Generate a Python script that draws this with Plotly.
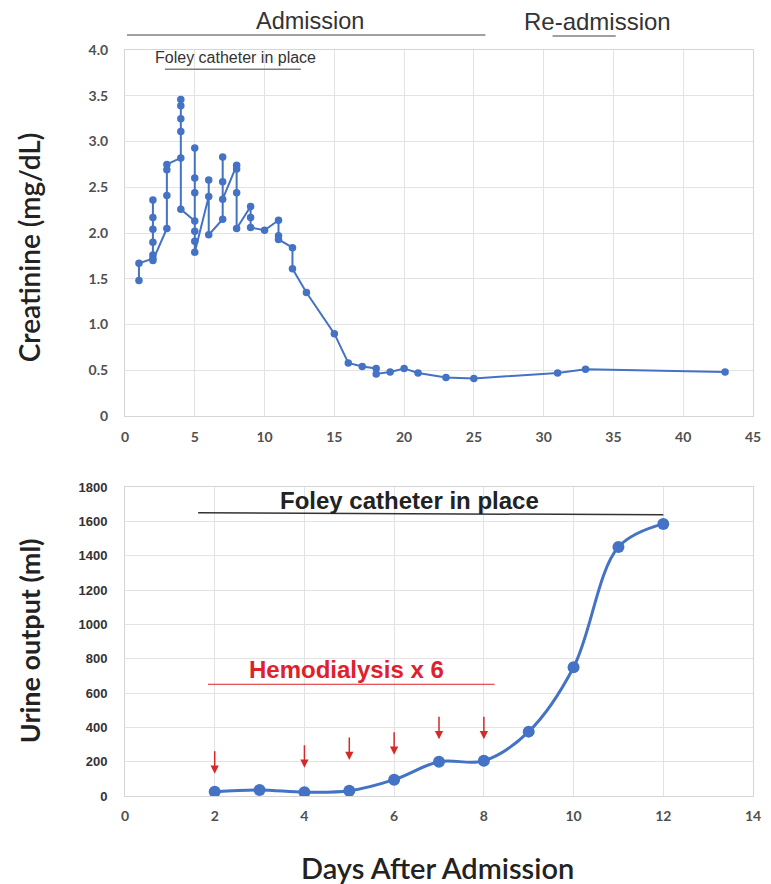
import plotly.graph_objects as go

# ---------------- data ----------------
cr_days = [1, 1, 2, 2, 2, 2, 2, 2, 2, 3, 3, 3, 3, 4, 4, 4, 4, 4, 4,
           5, 5, 5, 5, 5, 5, 5, 6, 6, 6, 7, 7, 7, 7, 8, 8, 8, 8, 9, 9, 9,
           10, 11, 11, 11, 12, 12, 13, 15, 16, 17, 18, 18, 19, 20, 21, 23, 25, 31, 33, 43]
creatinine = [1.48, 1.67, 1.72, 2.36, 2.17, 2.04, 1.90, 1.76, 1.70, 2.05, 2.41, 2.69, 2.75,
              2.82, 3.11, 3.25, 3.39, 3.46, 2.26,
              2.13, 2.93, 2.60, 2.44, 2.02, 1.91, 1.79, 2.40, 2.58, 1.98, 2.15, 2.83, 2.56, 2.37,
              2.74, 2.70, 2.44, 2.05, 2.29, 2.17, 2.06,
              2.03, 2.14, 1.97, 1.93, 1.84, 1.61, 1.35, 0.90, 0.58, 0.54, 0.52, 0.46, 0.48, 0.52,
              0.47, 0.42, 0.41, 0.47, 0.51, 0.48]

urine_days = [2, 3, 4, 5, 6, 7, 8, 9, 10, 11, 12]
urine_ml = [25, 35, 22, 30, 95, 200, 205, 375, 750, 1450, 1585]

hd_days = [2, 4, 5, 6, 7, 8]
hd_arrow_tip = [130, 165, 210, 240, 330, 330]   # annotation positions (arrow tips)
hd_arrow_len = 140

cr_xticks = [0, 5, 10, 15, 20, 25, 30, 35, 40, 45]
cr_yticks = [0, 0.5, 1.0, 1.5, 2.0, 2.5, 3.0, 3.5, 4.0]
cr_yticklabels = ["0", "0.5", "1.0", "1.5", "2.0", "2.5", "3.0", "3.5", "4.0"]
ur_xticks = [0, 2, 4, 6, 8, 10, 12, 14]
ur_yticks = [0, 200, 400, 600, 800, 1000, 1200, 1400, 1600, 1800]

BLUE = "#4472C4"
RED = "#E0202A"
GRID = "#E3E3E3"

W, H = 771, 884
ML, MR, MT, MB = 125, 10, 50, 88
PH = H - MT - MB


def py(pix):
    return (H - MB - pix) / PH


def px(pix):
    return (pix - ML) / (W - ML - MR)


fig = go.Figure()

fig.add_trace(go.Scatter(
    x=cr_days, y=creatinine, mode="lines+markers",
    line=dict(color=BLUE, width=2),
    marker=dict(color=BLUE, size=7.5),
    xaxis="x", yaxis="y", showlegend=False))

fig.add_trace(go.Scatter(
    x=urine_days, y=urine_ml, mode="lines+markers",
    line=dict(color=BLUE, width=3, shape="spline", smoothing=1.0),
    marker=dict(color=BLUE, size=12),
    xaxis="x2", yaxis="y2", showlegend=False))

tickfont_cal = dict(family="Lato", size=14, color="#505050", weight="bold")
tickfont_ar = dict(family="Liberation Sans", size=13, color="#333333", weight="bold")

axis_common = dict(showgrid=True, gridcolor=GRID, gridwidth=1, zeroline=False,
                   showline=True, linecolor="#D6D6D6", linewidth=1, mirror=True,
                   ticks="")

fig.update_layout(
    width=W, height=H,
    margin=dict(l=ML, r=MR, t=MT, b=MB),
    paper_bgcolor="white", plot_bgcolor="white",
    xaxis=dict(domain=[0, 1], range=[0, 45], tickvals=cr_xticks, anchor="y",
               tickfont=tickfont_cal, ticklabelstandoff=8, **axis_common),
    yaxis=dict(domain=[py(416), 1], range=[0, 4], tickvals=cr_yticks,
               ticktext=cr_yticklabels, anchor="x", tickfont=tickfont_cal,
               ticklabelstandoff=13, **axis_common),
    xaxis2=dict(domain=[0, 1], range=[0, 14], tickvals=ur_xticks, anchor="y2",
                tickfont=tickfont_cal, ticklabelstandoff=7, **axis_common),
    yaxis2=dict(domain=[0, py(487)], range=[0, 1800], tickvals=ur_yticks,
                anchor="x2", tickfont=tickfont_ar, ticklabelstandoff=14, **axis_common),
)

annotations = []
shapes = []


def ann(**kw):
    kw.setdefault("xanchor", "center")
    kw.setdefault("yanchor", "middle")
    kw.setdefault("showarrow", False)
    annotations.append(kw)


# --- top chart headers ---
ann(text="Admission", xref="paper", yref="paper", x=px(312), y=py(21),
    font=dict(family="Liberation Sans", size=23.5, color="#333333"))
shapes.append(dict(type="line", xref="paper", yref="paper",
                   x0=px(127), x1=px(490), y0=py(35), y1=py(35),
                   line=dict(color="#A0A0A0", width=2)))
ann(text="Re-admission", xref="paper", yref="paper", x=px(604), y=py(21),
    font=dict(family="Liberation Sans", size=24, color="#333333"))
shapes.append(dict(type="line", xref="paper", yref="paper",
                   x0=px(558), x1=px(622), y0=py(36), y1=py(36),
                   line=dict(color="#A0A0A0", width=2)))
ann(text="Foley catheter in place", xref="x", yref="y", x=7.95, y=3.92,
    font=dict(family="Liberation Sans", size=16, color="#333333"))
shapes.append(dict(type="line", xref="x", yref="y",
                   x0=2.86, x1=12.6, y0=3.79, y1=3.79,
                   line=dict(color="#808080", width=1.5)))

# --- bottom chart ---
ann(text="<b>Foley catheter in place</b>", xref="x2", yref="y2", x=6.34, y=1722,
    font=dict(family="Liberation Sans", size=24, color="#222222"))
shapes.append(dict(type="line", xref="x2", yref="y2",
                   x0=1.63, x1=12.0, y0=1650, y1=1638,
                   line=dict(color="#333333", width=1.5)))
ann(text="<b>Hemodialysis x 6</b>", xref="x2", yref="y2", x=4.93, y=738,
    font=dict(family="Liberation Sans", size=24, color=RED))
shapes.append(dict(type="line", xref="x2", yref="y2",
                   x0=1.85, x1=8.24, y0=651, y1=651,
                   line=dict(color=RED, width=1.2)))

for d, tip in zip(hd_days, hd_arrow_tip):
    annotations.append(dict(text="", xref="x2", yref="y2", x=d, y=tip,
                            axref="x2", ayref="y2", ax=d, ay=tip + hd_arrow_len,
                            showarrow=True, arrowhead=2, arrowsize=1.1,
                            arrowwidth=1.5, arrowcolor="#D42A2A"))

# --- axis titles ---
ann(text="Creatinine (mg/dL)", xref="paper", yref="paper", x=px(28), y=py(247),
    textangle=-90, font=dict(family="Lato", size=28, color="#222222", weight=600))
ann(text="Urine output (ml)", xref="paper", yref="paper", x=px(28), y=py(641),
    textangle=-90, font=dict(family="Lato", size=27, color="#222222", weight="bold"))
ann(text="Days After Admission", xref="paper", yref="paper", x=px(441), y=py(867),
    font=dict(family="Lato", size=29, color="#222222", weight=600))

fig.update_layout(annotations=annotations, shapes=shapes)

fig.write_html("out.html")
